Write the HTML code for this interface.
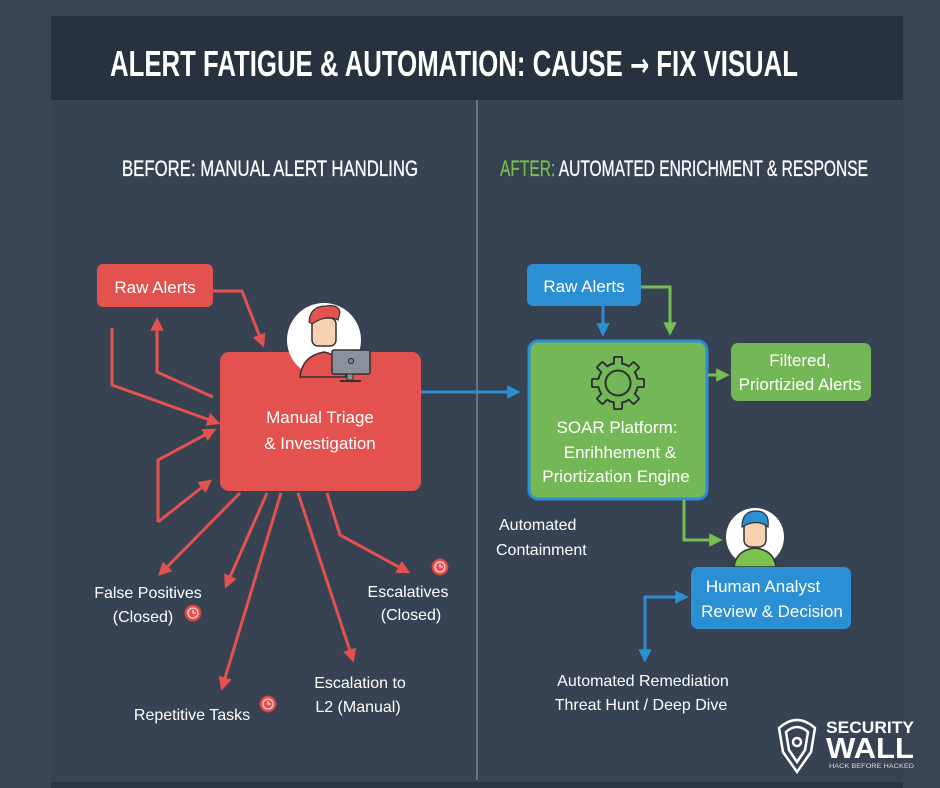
<!DOCTYPE html>
<html><head><meta charset="utf-8"><style>
html,body{margin:0;padding:0;background:#394454;}
svg{display:block}
text{font-family:"Liberation Sans",sans-serif;}
.n{font-family:"Liberation Sans Narrow","Liberation Sans",sans-serif;}
</style></head><body>
<svg width="940" height="788" viewBox="0 0 940 788" xmlns="http://www.w3.org/2000/svg">
<defs>
<marker id="ar" viewBox="0 0 10 10" refX="8" refY="5" markerWidth="4.5" markerHeight="4.5" orient="auto-start-reverse"><path d="M0,0 L10,5 L0,10 z" fill="#e3524f"/></marker>
<marker id="ab" viewBox="0 0 10 10" refX="8" refY="5" markerWidth="4.5" markerHeight="4.5" orient="auto-start-reverse"><path d="M0,0 L10,5 L0,10 z" fill="#2b8fd3"/></marker>
<marker id="ag" viewBox="0 0 10 10" refX="8" refY="5" markerWidth="4.5" markerHeight="4.5" orient="auto-start-reverse"><path d="M0,0 L10,5 L0,10 z" fill="#78bd52"/></marker>
</defs>
<rect width="940" height="788" fill="#394454"/>
<rect x="51" y="100" width="852" height="682" fill="#374252"/>
<rect x="51" y="782" width="852" height="6" fill="#2b3441"/>
<rect x="51" y="16" width="852" height="84" fill="#28323f"/>
<text class="n" x="110" y="76" font-size="36" font-weight="bold" fill="#fff" textLength="688" lengthAdjust="spacingAndGlyphs">ALERT FATIGUE &amp; AUTOMATION: CAUSE <tspan font-family="DejaVu Sans" font-size="32">→</tspan> FIX VISUAL</text>
<line x1="477" y1="100" x2="477" y2="780" stroke="#8d96a2" stroke-width="1.2"/>
<text class="n" x="122" y="176" font-size="22" fill="#fff" stroke="#fff" stroke-width="0.3" textLength="296" lengthAdjust="spacingAndGlyphs">BEFORE: MANUAL ALERT HANDLING</text>
<text class="n" x="500" y="176" font-size="22" fill="#fff" stroke="#fff" stroke-width="0.3" textLength="368" lengthAdjust="spacingAndGlyphs"><tspan fill="#79bb4f" stroke="#79bb4f">AFTER:</tspan> AUTOMATED ENRICHMENT &amp; RESPONSE</text>

<!-- LEFT -->
<g stroke="#e3524f" stroke-width="3" fill="none" marker-end="url(#ar)">
<polyline points="213,291 242,291 263,345"/>
<polyline points="112,328 112,385 218,423"/>
<polyline points="213,397 157,372 157,320"/>
<polyline points="158,522 158,460 214,430"/>
<polyline points="158,522 210,481"/>
<polyline points="240,493 160,574"/>
<polyline points="267,493 226,586"/>
<polyline points="281,493 222,688"/>
<polyline points="298,493 353,660"/>
<polyline points="327,493 340,535 408,572"/>
</g>
<rect x="97" y="264" width="116" height="43" rx="6" fill="#e3524f"/>
<text x="155" y="293" font-size="17" fill="#fff" text-anchor="middle">Raw Alerts</text>
<rect x="220" y="352" width="201" height="139" rx="9" fill="#e3524f"/>
<circle cx="324" cy="340" r="37" fill="#fff"/>
<path d="M300,377 Q302,356 324,352 Q344,356 346,377 Z" fill="#e3524f" stroke="#333" stroke-width="1.5"/>
<rect x="312" y="318" width="24" height="28" rx="6" fill="#f6d2b3" stroke="#333" stroke-width="1.5"/>
<path d="M309,322 Q310,306 326,306 Q338,304 340,312 L338,320 Q326,314 312,324 Z" fill="#e3524f" stroke="#333" stroke-width="1.2"/>
<rect x="332" y="350" width="38" height="24" rx="2" fill="#8a919b" stroke="#333" stroke-width="1.5"/>
<rect x="347" y="374" width="6" height="6" fill="#8a919b" stroke="#333" stroke-width="1"/>
<line x1="340" y1="381" x2="361" y2="381" stroke="#333" stroke-width="2"/>
<circle cx="351" cy="361" r="2.5" fill="none" stroke="#333" stroke-width="1.2"/>
<text x="320" y="423" font-size="17" fill="#fff" text-anchor="middle">Manual Triage</text>
<text x="320" y="449" font-size="17" fill="#fff" text-anchor="middle">&amp; Investigation</text>

<g font-size="16" fill="#fff" text-anchor="middle">
<text x="148" y="598">False Positives</text>
<text x="143" y="622">(Closed)</text>
<text x="408" y="597">Escalatives</text>
<text x="411" y="620">(Closed)</text>
<text x="360" y="688">Escalation to</text>
<text x="358" y="712">L2 (Manual)</text>
<text x="192" y="720">Repetitive Tasks</text>
</g>
<g fill="#e3524f" stroke="#c8403d" stroke-width="1">
<circle cx="193" cy="613" r="8"/><circle cx="440" cy="567" r="8"/><circle cx="268" cy="704" r="8"/>
</g>
<g fill="none" stroke="#f3d0cf" stroke-width="1.3">
<circle cx="193" cy="613" r="5"/><circle cx="440" cy="567" r="5"/><circle cx="268" cy="704" r="5"/>
<path d="M193,610 V613 H196 M440,564 V567 H443 M268,701 V704 H271"/></g>

<line x1="421" y1="392" x2="518" y2="392" stroke="#2b8fd3" stroke-width="3" marker-end="url(#ab)"/>

<!-- RIGHT -->
<line x1="603" y1="306" x2="603" y2="334" stroke="#2b8fd3" stroke-width="3" marker-end="url(#ab)"/>
<polyline points="641,287 670,287 670,333" fill="none" stroke="#78bd52" stroke-width="3" marker-end="url(#ag)"/>
<rect x="527" y="264" width="114" height="42" rx="6" fill="#2b8fd3"/>
<text x="584" y="292" font-size="17" fill="#fff" text-anchor="middle">Raw Alerts</text>
<rect x="529" y="341" width="178" height="158" rx="9" fill="#74b756" stroke="#2b8fd3" stroke-width="3"/>
<g transform="translate(618,383)" fill="#2b2f35">
<circle r="21"/>
<g id="t"><rect x="-5" y="-27" width="10" height="12" rx="2"/></g>
<use href="#t" transform="rotate(45)"/><use href="#t" transform="rotate(90)"/><use href="#t" transform="rotate(135)"/>
<use href="#t" transform="rotate(180)"/><use href="#t" transform="rotate(225)"/><use href="#t" transform="rotate(270)"/><use href="#t" transform="rotate(315)"/>
</g>
<g transform="translate(618,383)" fill="#74b756">
<circle r="19"/>
<g id="t2"><rect x="-3.2" y="-25.2" width="6.4" height="12" rx="1"/></g>
<use href="#t2" transform="rotate(45)"/><use href="#t2" transform="rotate(90)"/><use href="#t2" transform="rotate(135)"/>
<use href="#t2" transform="rotate(180)"/><use href="#t2" transform="rotate(225)"/><use href="#t2" transform="rotate(270)"/><use href="#t2" transform="rotate(315)"/>
<circle r="12.5" fill="none" stroke="#2b2f35" stroke-width="2"/>
</g>
<text x="617" y="433" font-size="17" fill="#fff" text-anchor="middle">SOAR Platform:</text>
<text x="620" y="458" font-size="17" fill="#fff" text-anchor="middle">Enrihhement &amp;</text>
<text x="616" y="482" font-size="17" fill="#fff" text-anchor="middle">Priortization Engine</text>

<line x1="708" y1="375" x2="727" y2="375" stroke="#78bd52" stroke-width="3" marker-end="url(#ag)"/>
<rect x="731" y="343" width="140" height="58" rx="7" fill="#74b756"/>
<text x="800" y="366" font-size="17" fill="#fff" text-anchor="middle">Filtered,</text>
<text x="800" y="390" font-size="17" fill="#fff" text-anchor="middle">Priortizied Alerts</text>

<polyline points="684,500 684,540 720,540" fill="none" stroke="#78bd52" stroke-width="3" marker-end="url(#ag)"/>
<circle cx="755" cy="537" r="29" fill="#fff"/>
<path d="M734,567 Q736,550 755,548 Q774,550 776,567 Z" fill="#7ac14f" stroke="#333" stroke-width="1.5"/>
<rect x="744" y="521" width="22" height="26" rx="7" fill="#f6d2b3" stroke="#333" stroke-width="1.5"/>
<path d="M742,527 Q742,511 756,511 Q770,511 768,527 Q757,518 742,527 Z" fill="#2b8fd3" stroke="#333" stroke-width="1.2"/>
<rect x="691" y="567" width="160" height="62" rx="7" fill="#2b8fd3"/>
<text x="763" y="592" font-size="17" fill="#fff" text-anchor="middle">Human Analyst</text>
<text x="772" y="617" font-size="17" fill="#fff" text-anchor="middle">Review &amp; Decision</text>
<polyline points="645,660 645,597 686,597" fill="none" stroke="#2b8fd3" stroke-width="3" marker-start="url(#ab)" marker-end="url(#ab)"/>

<g font-size="16" fill="#fff">
<text x="499" y="530">Automated</text>
<text x="496" y="555">Containment</text>
<text x="643" y="686" text-anchor="middle">Automated Remediation</text>
<text x="641" y="710" text-anchor="middle">Threat Hunt / Deep Dive</text>
</g>

<!-- logo -->
<g fill="none" stroke="#fff" stroke-width="2.5">
<path d="M779,728 Q797,712 815,728 L811,752 L797,772 L783,752 Z"/>
<path d="M786,732 Q797,722 808,732 L805,750 L797,762 L789,750 Z"/>
<circle cx="797" cy="742" r="4"/>
</g>
<text class="n" x="826" y="733" font-size="17" font-weight="bold" fill="#fff" textLength="88" lengthAdjust="spacingAndGlyphs">SECURITY</text>
<text class="n" x="826" y="758" font-size="29" font-weight="bold" fill="#fff" textLength="88" lengthAdjust="spacingAndGlyphs">WALL</text>
<text x="829" y="768" font-size="6" fill="#ddd" textLength="85" lengthAdjust="spacingAndGlyphs">HACK BEFORE HACKED</text>
</svg>
</body></html>
